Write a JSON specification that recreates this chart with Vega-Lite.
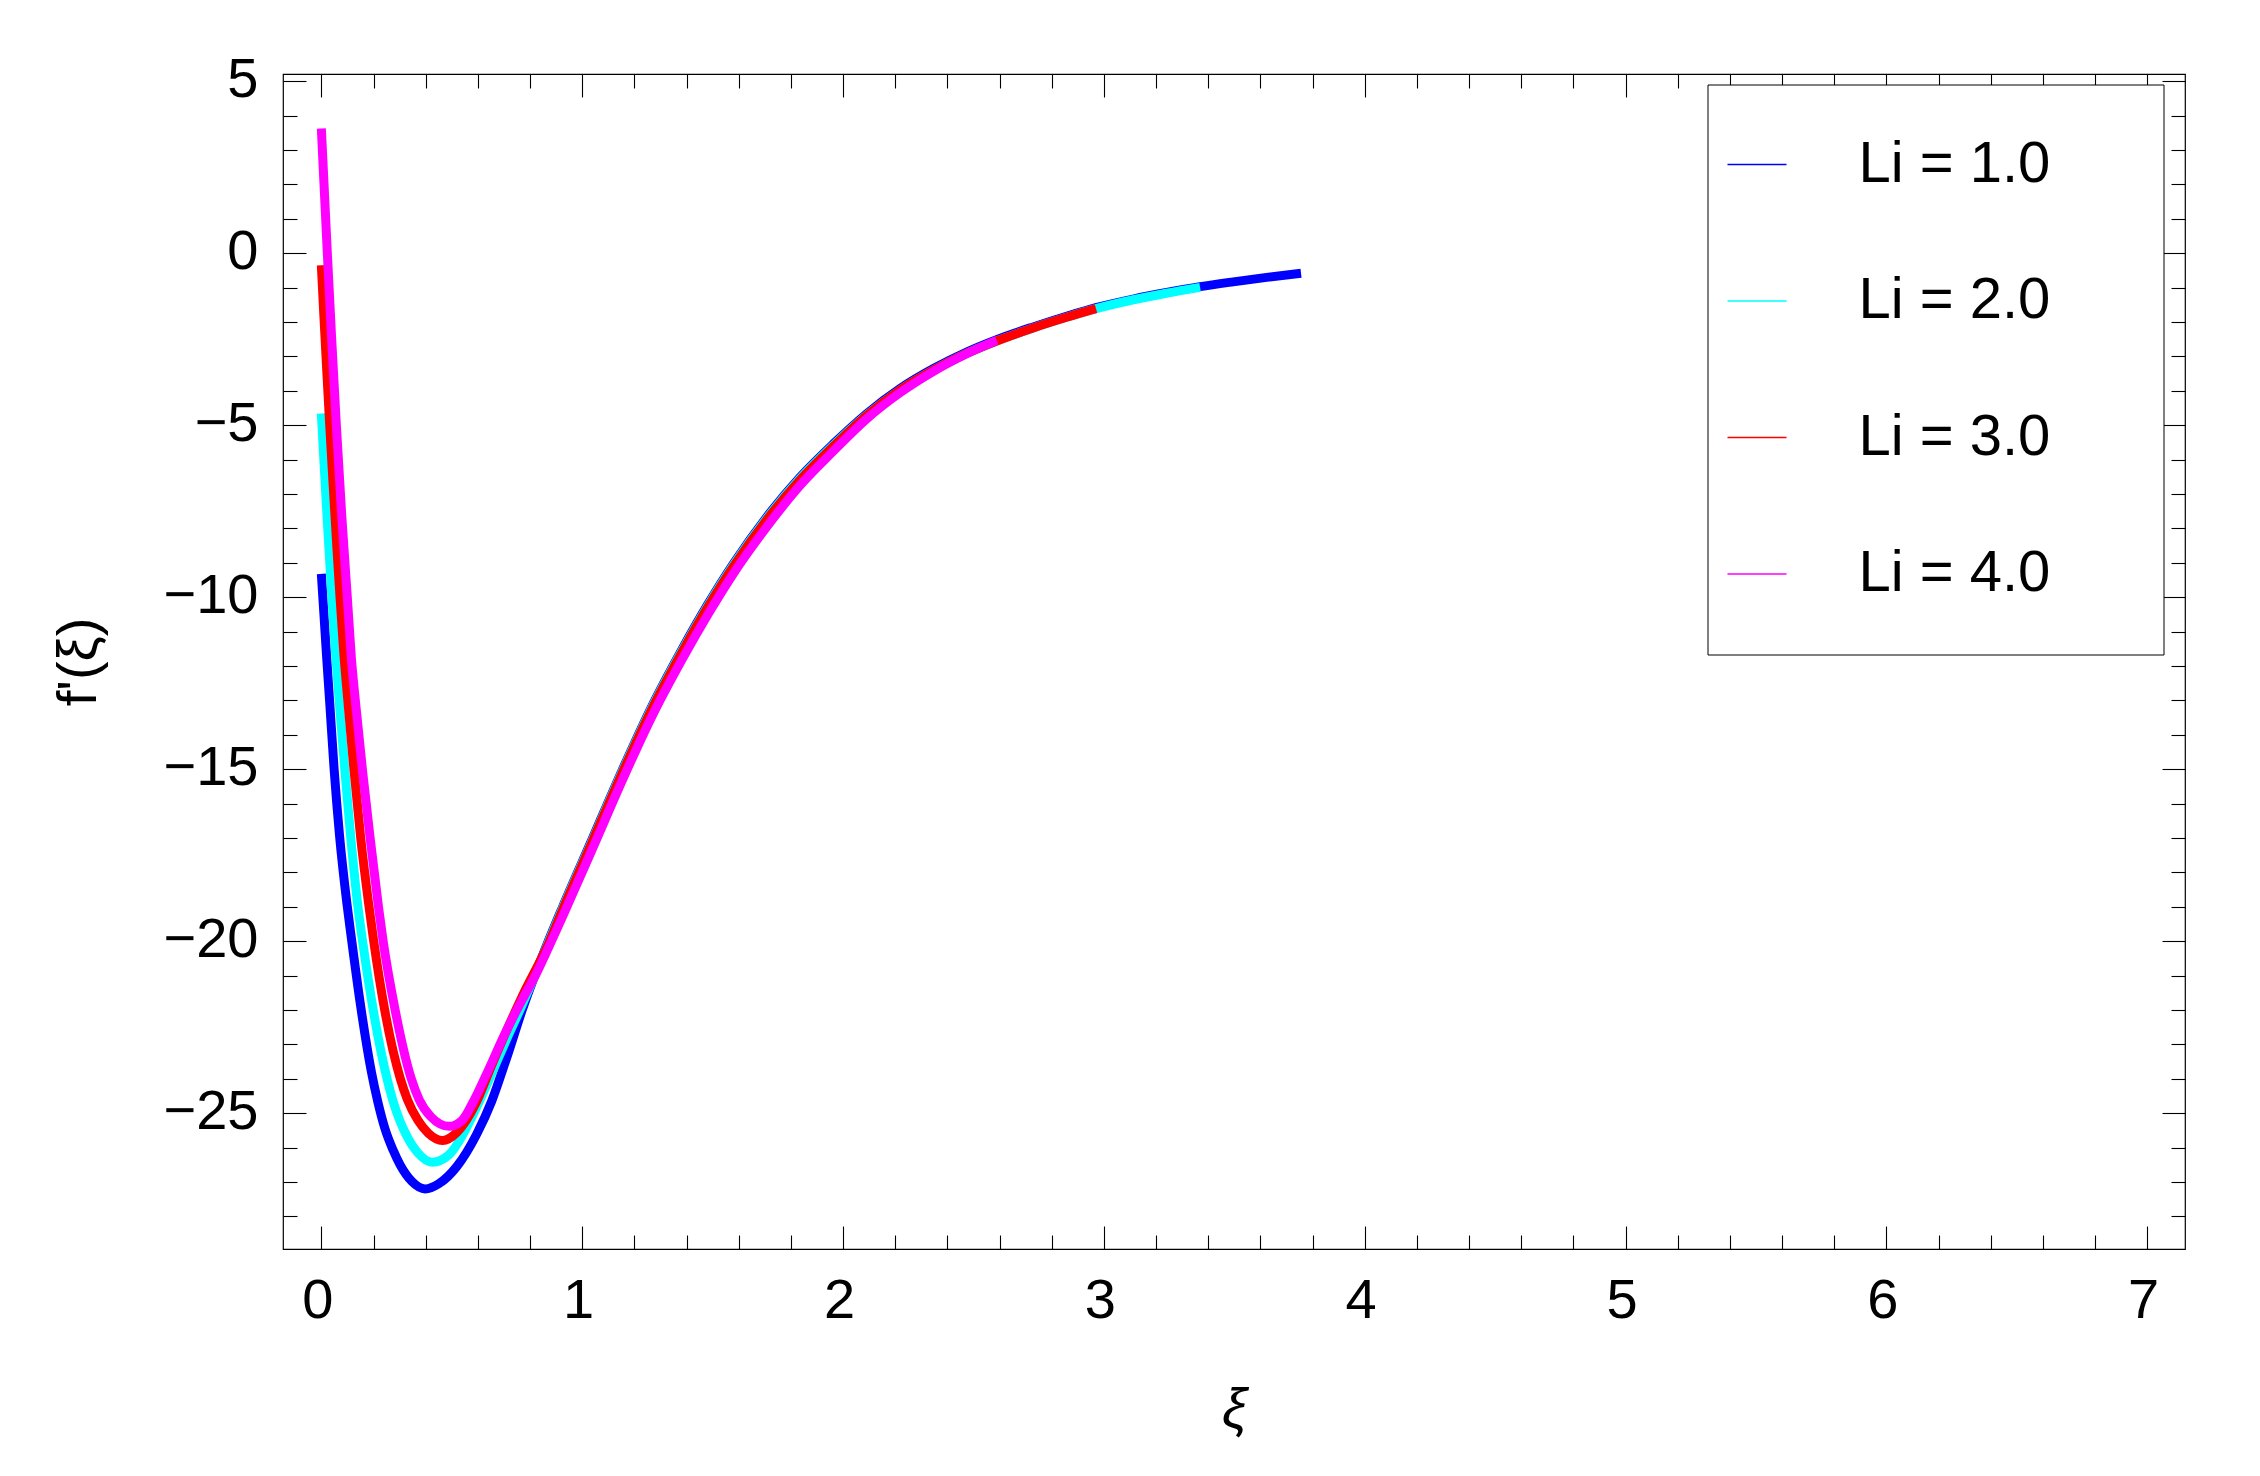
{
  "$schema": "https://vega.github.io/schema/vega-lite/v6.json",
  "autosize": {"type": "none"},
  "padding": {"left": 283, "top": 74, "right": 75, "bottom": 227},
  "width": 1902,
  "height": 1175,
  "background": "white",
  "config": {
    "view": {"stroke": "black", "strokeWidth": 1.2},
    "axis": {"domain": false, "grid": false, "tickColor": "black", "tickWidth": 1.1, "labelFlush": false, "labelOverlap": false, "labelColor": "black", "titleColor": "black"}
  },
  "data": {"values": [
    {"xi": 0, "fp": -9.32, "Li": "Li = 1.0"},
    {"xi": 0.01, "fp": -10.5, "Li": "Li = 1.0"},
    {"xi": 0.02, "fp": -11.7, "Li": "Li = 1.0"},
    {"xi": 0.032, "fp": -13.05, "Li": "Li = 1.0"},
    {"xi": 0.049, "fp": -15.0, "Li": "Li = 1.0"},
    {"xi": 0.07, "fp": -16.95, "Li": "Li = 1.0"},
    {"xi": 0.098, "fp": -18.9, "Li": "Li = 1.0"},
    {"xi": 0.115, "fp": -19.9, "Li": "Li = 1.0"},
    {"xi": 0.15, "fp": -21.85, "Li": "Li = 1.0"},
    {"xi": 0.192, "fp": -23.8, "Li": "Li = 1.0"},
    {"xi": 0.216, "fp": -24.65, "Li": "Li = 1.0"},
    {"xi": 0.244, "fp": -25.45, "Li": "Li = 1.0"},
    {"xi": 0.275, "fp": -26.07, "Li": "Li = 1.0"},
    {"xi": 0.302, "fp": -26.5, "Li": "Li = 1.0"},
    {"xi": 0.347, "fp": -26.98, "Li": "Li = 1.0"},
    {"xi": 0.398, "fp": -27.2, "Li": "Li = 1.0"},
    {"xi": 0.45, "fp": -27.05, "Li": "Li = 1.0"},
    {"xi": 0.519, "fp": -26.55, "Li": "Li = 1.0"},
    {"xi": 0.596, "fp": -25.6, "Li": "Li = 1.0"},
    {"xi": 0.653, "fp": -24.65, "Li": "Li = 1.0"},
    {"xi": 0.71, "fp": -23.4, "Li": "Li = 1.0"},
    {"xi": 0.77, "fp": -22.0, "Li": "Li = 1.0"},
    {"xi": 0.87, "fp": -20.0, "Li": "Li = 1.0"},
    {"xi": 0.925, "fp": -19.0, "Li": "Li = 1.0"},
    {"xi": 1.04, "fp": -17.0, "Li": "Li = 1.0"},
    {"xi": 1.152, "fp": -15.05, "Li": "Li = 1.0"},
    {"xi": 1.265, "fp": -13.2, "Li": "Li = 1.0"},
    {"xi": 1.38, "fp": -11.55, "Li": "Li = 1.0"},
    {"xi": 1.482, "fp": -10.2, "Li": "Li = 1.0"},
    {"xi": 1.579, "fp": -9.03, "Li": "Li = 1.0"},
    {"xi": 1.707, "fp": -7.67, "Li": "Li = 1.0"},
    {"xi": 1.835, "fp": -6.51, "Li": "Li = 1.0"},
    {"xi": 1.963, "fp": -5.54, "Li": "Li = 1.0"},
    {"xi": 2.091, "fp": -4.66, "Li": "Li = 1.0"},
    {"xi": 2.219, "fp": -3.93, "Li": "Li = 1.0"},
    {"xi": 2.347, "fp": -3.35, "Li": "Li = 1.0"},
    {"xi": 2.474, "fp": -2.87, "Li": "Li = 1.0"},
    {"xi": 2.589, "fp": -2.51, "Li": "Li = 1.0"},
    {"xi": 2.729, "fp": -2.14, "Li": "Li = 1.0"},
    {"xi": 2.857, "fp": -1.83, "Li": "Li = 1.0"},
    {"xi": 2.97, "fp": -1.58, "Li": "Li = 1.0"},
    {"xi": 3.113, "fp": -1.33, "Li": "Li = 1.0"},
    {"xi": 3.241, "fp": -1.14, "Li": "Li = 1.0"},
    {"xi": 3.369, "fp": -0.97, "Li": "Li = 1.0"},
    {"xi": 3.496, "fp": -0.83, "Li": "Li = 1.0"},
    {"xi": 3.624, "fp": -0.7, "Li": "Li = 1.0"},
    {"xi": 3.756, "fp": -0.58, "Li": "Li = 1.0"},

    {"xi": 0, "fp": -4.66, "Li": "Li = 2.0"},
    {"xi": 0.01, "fp": -6.05, "Li": "Li = 2.0"},
    {"xi": 0.02, "fp": -7.4, "Li": "Li = 2.0"},
    {"xi": 0.03, "fp": -8.7, "Li": "Li = 2.0"},
    {"xi": 0.04, "fp": -9.95, "Li": "Li = 2.0"},
    {"xi": 0.055, "fp": -11.65, "Li": "Li = 2.0"},
    {"xi": 0.0705, "fp": -13.2, "Li": "Li = 2.0"},
    {"xi": 0.09, "fp": -15.0, "Li": "Li = 2.0"},
    {"xi": 0.113, "fp": -17.0, "Li": "Li = 2.0"},
    {"xi": 0.142, "fp": -19.1, "Li": "Li = 2.0"},
    {"xi": 0.16, "fp": -20.1, "Li": "Li = 2.0"},
    {"xi": 0.2, "fp": -22.05, "Li": "Li = 2.0"},
    {"xi": 0.252, "fp": -24.0, "Li": "Li = 2.0"},
    {"xi": 0.275, "fp": -24.65, "Li": "Li = 2.0"},
    {"xi": 0.3, "fp": -25.2, "Li": "Li = 2.0"},
    {"xi": 0.327, "fp": -25.65, "Li": "Li = 2.0"},
    {"xi": 0.37, "fp": -26.15, "Li": "Li = 2.0"},
    {"xi": 0.425, "fp": -26.42, "Li": "Li = 2.0"},
    {"xi": 0.49, "fp": -26.2, "Li": "Li = 2.0"},
    {"xi": 0.544, "fp": -25.6, "Li": "Li = 2.0"},
    {"xi": 0.6, "fp": -24.75, "Li": "Li = 2.0"},
    {"xi": 0.653, "fp": -23.85, "Li": "Li = 2.0"},
    {"xi": 0.71, "fp": -22.85, "Li": "Li = 2.0"},
    {"xi": 0.77, "fp": -21.85, "Li": "Li = 2.0"},
    {"xi": 0.87, "fp": -20.04, "Li": "Li = 2.0"},
    {"xi": 0.925, "fp": -19.04, "Li": "Li = 2.0"},
    {"xi": 1.04, "fp": -17.04, "Li": "Li = 2.0"},
    {"xi": 1.152, "fp": -15.09, "Li": "Li = 2.0"},
    {"xi": 1.265, "fp": -13.24, "Li": "Li = 2.0"},
    {"xi": 1.38, "fp": -11.59, "Li": "Li = 2.0"},
    {"xi": 1.482, "fp": -10.24, "Li": "Li = 2.0"},
    {"xi": 1.579, "fp": -9.07, "Li": "Li = 2.0"},
    {"xi": 1.707, "fp": -7.71, "Li": "Li = 2.0"},
    {"xi": 1.835, "fp": -6.55, "Li": "Li = 2.0"},
    {"xi": 1.963, "fp": -5.58, "Li": "Li = 2.0"},
    {"xi": 2.091, "fp": -4.7, "Li": "Li = 2.0"},
    {"xi": 2.219, "fp": -3.97, "Li": "Li = 2.0"},
    {"xi": 2.347, "fp": -3.39, "Li": "Li = 2.0"},
    {"xi": 2.474, "fp": -2.91, "Li": "Li = 2.0"},
    {"xi": 2.589, "fp": -2.55, "Li": "Li = 2.0"},
    {"xi": 2.729, "fp": -2.17, "Li": "Li = 2.0"},
    {"xi": 2.857, "fp": -1.86, "Li": "Li = 2.0"},
    {"xi": 2.97, "fp": -1.61, "Li": "Li = 2.0"},
    {"xi": 3.113, "fp": -1.35, "Li": "Li = 2.0"},
    {"xi": 3.241, "fp": -1.16, "Li": "Li = 2.0"},
    {"xi": 3.369, "fp": -0.99, "Li": "Li = 2.0"},

    {"xi": 0, "fp": -0.35, "Li": "Li = 3.0"},
    {"xi": 0.01, "fp": -1.85, "Li": "Li = 3.0"},
    {"xi": 0.02, "fp": -3.3, "Li": "Li = 3.0"},
    {"xi": 0.03, "fp": -4.7, "Li": "Li = 3.0"},
    {"xi": 0.045, "fp": -6.7, "Li": "Li = 3.0"},
    {"xi": 0.06, "fp": -8.6, "Li": "Li = 3.0"},
    {"xi": 0.07, "fp": -9.8, "Li": "Li = 3.0"},
    {"xi": 0.085, "fp": -11.5, "Li": "Li = 3.0"},
    {"xi": 0.105, "fp": -13.3, "Li": "Li = 3.0"},
    {"xi": 0.125, "fp": -15.0, "Li": "Li = 3.0"},
    {"xi": 0.151, "fp": -17.0, "Li": "Li = 3.0"},
    {"xi": 0.183, "fp": -19.0, "Li": "Li = 3.0"},
    {"xi": 0.2, "fp": -19.95, "Li": "Li = 3.0"},
    {"xi": 0.243, "fp": -22.0, "Li": "Li = 3.0"},
    {"xi": 0.303, "fp": -24.0, "Li": "Li = 3.0"},
    {"xi": 0.33, "fp": -24.6, "Li": "Li = 3.0"},
    {"xi": 0.37, "fp": -25.2, "Li": "Li = 3.0"},
    {"xi": 0.41, "fp": -25.58, "Li": "Li = 3.0"},
    {"xi": 0.465, "fp": -25.79, "Li": "Li = 3.0"},
    {"xi": 0.52, "fp": -25.55, "Li": "Li = 3.0"},
    {"xi": 0.596, "fp": -24.65, "Li": "Li = 3.0"},
    {"xi": 0.653, "fp": -23.6, "Li": "Li = 3.0"},
    {"xi": 0.71, "fp": -22.6, "Li": "Li = 3.0"},
    {"xi": 0.77, "fp": -21.6, "Li": "Li = 3.0"},
    {"xi": 0.87, "fp": -20.08, "Li": "Li = 3.0"},
    {"xi": 0.925, "fp": -19.08, "Li": "Li = 3.0"},
    {"xi": 1.04, "fp": -17.08, "Li": "Li = 3.0"},
    {"xi": 1.152, "fp": -15.13, "Li": "Li = 3.0"},
    {"xi": 1.265, "fp": -13.28, "Li": "Li = 3.0"},
    {"xi": 1.38, "fp": -11.63, "Li": "Li = 3.0"},
    {"xi": 1.482, "fp": -10.28, "Li": "Li = 3.0"},
    {"xi": 1.579, "fp": -9.11, "Li": "Li = 3.0"},
    {"xi": 1.707, "fp": -7.75, "Li": "Li = 3.0"},
    {"xi": 1.835, "fp": -6.59, "Li": "Li = 3.0"},
    {"xi": 1.963, "fp": -5.61, "Li": "Li = 3.0"},
    {"xi": 2.091, "fp": -4.71, "Li": "Li = 3.0"},
    {"xi": 2.219, "fp": -3.97, "Li": "Li = 3.0"},
    {"xi": 2.347, "fp": -3.39, "Li": "Li = 3.0"},
    {"xi": 2.474, "fp": -2.91, "Li": "Li = 3.0"},
    {"xi": 2.589, "fp": -2.55, "Li": "Li = 3.0"},
    {"xi": 2.729, "fp": -2.17, "Li": "Li = 3.0"},
    {"xi": 2.857, "fp": -1.86, "Li": "Li = 3.0"},
    {"xi": 2.97, "fp": -1.61, "Li": "Li = 3.0"},

    {"xi": 0, "fp": 3.63, "Li": "Li = 4.0"},
    {"xi": 0.01, "fp": 2.05, "Li": "Li = 4.0"},
    {"xi": 0.023, "fp": 0.0, "Li": "Li = 4.0"},
    {"xi": 0.04, "fp": -2.55, "Li": "Li = 4.0"},
    {"xi": 0.0575, "fp": -5.0, "Li": "Li = 4.0"},
    {"xi": 0.078, "fp": -7.6, "Li": "Li = 4.0"},
    {"xi": 0.1, "fp": -10.05, "Li": "Li = 4.0"},
    {"xi": 0.115, "fp": -11.75, "Li": "Li = 4.0"},
    {"xi": 0.133, "fp": -13.2, "Li": "Li = 4.0"},
    {"xi": 0.158, "fp": -15.05, "Li": "Li = 4.0"},
    {"xi": 0.187, "fp": -17.0, "Li": "Li = 4.0"},
    {"xi": 0.219, "fp": -19.0, "Li": "Li = 4.0"},
    {"xi": 0.237, "fp": -20.0, "Li": "Li = 4.0"},
    {"xi": 0.283, "fp": -22.0, "Li": "Li = 4.0"},
    {"xi": 0.345, "fp": -24.0, "Li": "Li = 4.0"},
    {"xi": 0.375, "fp": -24.6, "Li": "Li = 4.0"},
    {"xi": 0.42, "fp": -25.1, "Li": "Li = 4.0"},
    {"xi": 0.49, "fp": -25.38, "Li": "Li = 4.0"},
    {"xi": 0.54, "fp": -25.2, "Li": "Li = 4.0"},
    {"xi": 0.58, "fp": -24.7, "Li": "Li = 4.0"},
    {"xi": 0.64, "fp": -23.75, "Li": "Li = 4.0"},
    {"xi": 0.7, "fp": -22.75, "Li": "Li = 4.0"},
    {"xi": 0.77, "fp": -21.7, "Li": "Li = 4.0"},
    {"xi": 0.82, "fp": -21.0, "Li": "Li = 4.0"},
    {"xi": 0.87, "fp": -20.2, "Li": "Li = 4.0"},
    {"xi": 0.925, "fp": -19.28, "Li": "Li = 4.0"},
    {"xi": 1.04, "fp": -17.3, "Li": "Li = 4.0"},
    {"xi": 1.152, "fp": -15.35, "Li": "Li = 4.0"},
    {"xi": 1.265, "fp": -13.5, "Li": "Li = 4.0"},
    {"xi": 1.38, "fp": -11.85, "Li": "Li = 4.0"},
    {"xi": 1.482, "fp": -10.5, "Li": "Li = 4.0"},
    {"xi": 1.579, "fp": -9.32, "Li": "Li = 4.0"},
    {"xi": 1.707, "fp": -7.96, "Li": "Li = 4.0"},
    {"xi": 1.835, "fp": -6.75, "Li": "Li = 4.0"},
    {"xi": 1.963, "fp": -5.75, "Li": "Li = 4.0"},
    {"xi": 2.091, "fp": -4.81, "Li": "Li = 4.0"},
    {"xi": 2.219, "fp": -4.05, "Li": "Li = 4.0"},
    {"xi": 2.347, "fp": -3.43, "Li": "Li = 4.0"},
    {"xi": 2.474, "fp": -2.92, "Li": "Li = 4.0"},
    {"xi": 2.589, "fp": -2.53, "Li": "Li = 4.0"}
  ]},
  "resolve": {"axis": {"x": "independent", "y": "independent"}},
  "layer": [
    {
      "mark": {"type": "line", "strokeWidth": 9, "interpolate": "monotone", "strokeJoin": "round"},
      "encoding": {
        "x": {"field": "xi", "type": "quantitative",
          "scale": {"domain": [-0.147, 7.145], "nice": false, "zero": false},
          "axis": {"orient": "bottom", "values": [0, 1, 2, 3, 4, 5, 6, 7], "format": "d", "tickSize": -23, "labelPadding": 47, "labelOffset": -4,
            "labelFont": "Liberation Sans", "labelFontSize": 56, "title": "ξ", "titleFont": "Liberation Sans", "titleFontSize": 56, "titleFontWeight": "normal", "titleFontStyle": "italic", "titleY": 160, "titleBaseline": "middle"}},
        "y": {"field": "fp", "type": "quantitative",
          "scale": {"domain": [-28.945, 5.212], "nice": false, "zero": false},
          "axis": {"orient": "left", "values": [-25, -20, -15, -10, -5, 0, 5], "format": "d", "tickSize": -23, "labelPadding": 48, "labelOffset": -2,
            "labelFont": "Liberation Sans", "labelFontSize": 56, "title": "f'(ξ)", "titleFont": "Liberation Sans", "titleFontSize": 56, "titleFontWeight": "normal", "titleX": -205, "titleY": 587.5, "titleBaseline": "middle", "titleAngle": -90}},
        "color": {"field": "Li", "type": "nominal",
          "scale": {"domain": ["Li = 1.0", "Li = 2.0", "Li = 3.0", "Li = 4.0"], "range": ["#0000FF", "#00FFFF", "#FF0000", "#FF00FF"]},
          "legend": {"orient": "none", "legendX": 1424.5, "legendY": 10.5, "title": null, "padding": 19, "strokeColor": "black", "fillColor": "white",
            "symbolType": "stroke", "symbolSize": 3481, "symbolStrokeWidth": 1.5, "labelFont": "Liberation Sans", "labelFontSize": 58, "labelColor": "black",
            "labelOffset": 71, "labelLimit": 600, "clipHeight": 122, "rowPadding": 14.5,
            "encode": {"entries": {"update": {"width": {"value": 418}}}}}}
      }
    },
    {
      "mark": {"type": "line", "strokeOpacity": 0},
      "encoding": {
        "x": {"field": "xi", "type": "quantitative", "scale": {"domain": [-0.147, 7.145], "nice": false, "zero": false},
          "axis": {"orient": "bottom", "values": [0.2, 0.4, 0.6, 0.8, 1.2, 1.4, 1.6, 1.8, 2.2, 2.4, 2.6, 2.8, 3.2, 3.4, 3.6, 3.8, 4.2, 4.4, 4.6, 4.8, 5.2, 5.4, 5.6, 5.8, 6.2, 6.4, 6.6, 6.8], "tickSize": -14, "labels": false, "title": null}},
        "y": {"field": "fp", "type": "quantitative", "scale": {"domain": [-28.945, 5.212], "nice": false, "zero": false},
          "axis": {"orient": "left", "values": [-28, -27, -26, -24, -23, -22, -21, -19, -18, -17, -16, -14, -13, -12, -11, -9, -8, -7, -6, -4, -3, -2, -1, 1, 2, 3, 4], "tickSize": -14, "labels": false, "title": null}},
        "detail": {"field": "Li", "type": "nominal"}
      }
    },
    {
      "mark": {"type": "line", "strokeOpacity": 0},
      "encoding": {
        "x": {"field": "xi", "type": "quantitative", "scale": {"domain": [-0.147, 7.145], "nice": false, "zero": false},
          "axis": {"orient": "top", "values": [0, 1, 2, 3, 4, 5, 6, 7], "tickSize": -23, "labels": false, "title": null}},
        "y": {"field": "fp", "type": "quantitative", "scale": {"domain": [-28.945, 5.212], "nice": false, "zero": false},
          "axis": {"orient": "right", "values": [-25, -20, -15, -10, -5, 0, 5], "tickSize": -23, "labels": false, "title": null}},
        "detail": {"field": "Li", "type": "nominal"}
      }
    },
    {
      "mark": {"type": "line", "strokeOpacity": 0},
      "encoding": {
        "x": {"field": "xi", "type": "quantitative", "scale": {"domain": [-0.147, 7.145], "nice": false, "zero": false},
          "axis": {"orient": "top", "values": [0.2, 0.4, 0.6, 0.8, 1.2, 1.4, 1.6, 1.8, 2.2, 2.4, 2.6, 2.8, 3.2, 3.4, 3.6, 3.8, 4.2, 4.4, 4.6, 4.8, 5.2, 5.4, 5.6, 5.8, 6.2, 6.4, 6.6, 6.8], "tickSize": -14, "labels": false, "title": null}},
        "y": {"field": "fp", "type": "quantitative", "scale": {"domain": [-28.945, 5.212], "nice": false, "zero": false},
          "axis": {"orient": "right", "values": [-28, -27, -26, -24, -23, -22, -21, -19, -18, -17, -16, -14, -13, -12, -11, -9, -8, -7, -6, -4, -3, -2, -1, 1, 2, 3, 4], "tickSize": -14, "labels": false, "title": null}},
        "detail": {"field": "Li", "type": "nominal"}
      }
    }
  ]
}
